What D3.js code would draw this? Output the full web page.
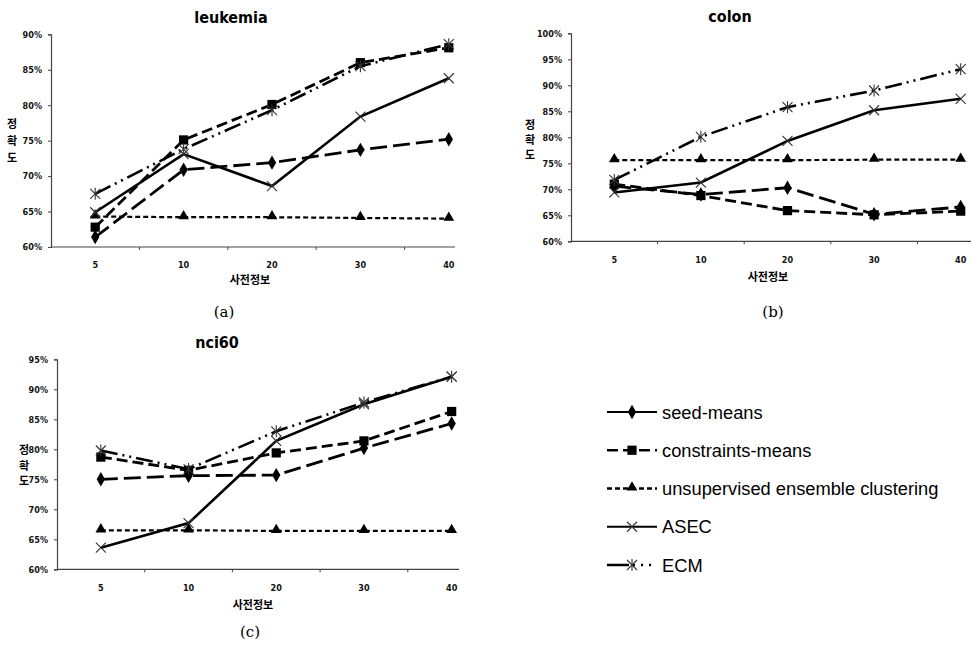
<!DOCTYPE html>
<html>
<head>
<meta charset="utf-8">
<script src="https://cdn.jsdelivr.net/npm/d3@7"></script>
<style>
  body { margin: 0; background: #fff; }
  .tick text { font-family: "DejaVu Sans Condensed", "DejaVu Sans", sans-serif; font-weight: bold; font-size: 9px; fill: #111; }
</style>
</head>
<body>
<script>
/**
 * Data
 */

var categories = ['5', '10', '20', '30', '40'];

var seriesNames = ['seed-means', 'constraints-means', 'unsupervised ensemble clustering', 'ASEC', 'ECM'];

// leukemia (%)
var seedLeuk  = [61.4, 70.9, 71.9, 73.7, 75.2];
var consLeuk  = [62.8, 75.1, 80.1, 86.0, 88.1];
var unsupLeuk = [64.3, 64.2, 64.2, 64.1, 64.0];
var asecLeuk  = [64.9, 73.1, 68.6, 78.4, 83.8];
var ecmLeuk   = [67.5, 73.8, 79.3, 85.5, 88.6];

// colon (%)
var seedColon  = [70.6, 69.0, 70.3, 65.2, 66.6];
var consColon  = [71.0, 68.8, 65.9, 65.1, 65.8];
var unsupColon = [75.6, 75.6, 75.6, 75.7, 75.7];
var asecColon  = [69.4, 71.3, 79.3, 85.2, 87.4];
var ecmColon   = [71.8, 80.1, 85.8, 89.0, 93.1];

// nci60 (%)
var seedNci  = [75.0, 75.6, 75.7, 80.2, 84.3];
var consNci  = [78.7, 76.5, 79.4, 81.4, 86.3];
var unsupNci = [66.5, 66.5, 66.4, 66.4, 66.4];
var asecNci  = [63.6, 67.7, 81.4, 87.5, 92.1];
var ecmNci   = [79.8, 76.7, 83.0, 87.8, 92.1];

var yTicksLeuk  = [60, 65, 70, 75, 80, 85, 90];
var yTicksColon = [60, 65, 70, 75, 80, 85, 90, 95, 100];
var yTicksNci   = [60, 65, 70, 75, 80, 85, 90, 95];

/**
 * Line and marker styles, one per series
 */
var styles = [
  { dash: '17,6', width: 2.8, marker: 'diamond' },
  { dash: '11,5', width: 2.8, marker: 'square' },
  { dash: '5,3', width: 2.2, marker: 'triangle' },
  { dash: null, width: 2.6, marker: 'x' },
  { dash: '17,5,2,5,2,5', width: 2.6, marker: 'star' }
];

/**
 * Panels layout
 */
var panels = [
  { title: 'leukemia', caption: '(a)', series: [seedLeuk, consLeuk, unsupLeuk, asecLeuk, ecmLeuk],
    yTicks: yTicksLeuk, x0: 51, band: 88.4, axisEnd: 455, top: 34.3, bottom: 247,
    titleX: 231, titleY: 23, xTitleX: 250, xTitleY: 284, yLabelX: 12, yLabelY: 123, yLabelStep: 17,
    capX: 224, capY: 317 },
  { title: 'colon', caption: '(b)', series: [seedColon, consColon, unsupColon, asecColon, ecmColon],
    yTicks: yTicksColon, x0: 571, band: 86.6, axisEnd: 971, top: 33.3, bottom: 241.3,
    titleX: 730, titleY: 22, xTitleX: 768, xTitleY: 281, yLabelX: 530, yLabelY: 124, yLabelStep: 15,
    capX: 773, capY: 317 },
  { title: 'nci60', caption: '(c)', series: [seedNci, consNci, unsupNci, asecNci, ecmNci],
    yTicks: yTicksNci, x0: 57, band: 87.7, axisEnd: 459, top: 359.3, bottom: 569.3,
    titleX: 217, titleY: 348, xTitleX: 253, xTitleY: 609, yLabelX: 24, yLabelY: 449, yLabelStep: 15.5,
    capX: 250, capY: 637 }
];

var svg = d3.select('body')
  .append('svg')
  .attr('width', 972)
  .attr('height', 652);

/**
 * Markers
 */
function drawMarker(g, type, cx, cy) {
  var m;
  if (type === 'diamond') {
    g.append('path').attr('d', d3.symbol(d3.symbolDiamond, 60)())
      .attr('transform', 'translate(' + cx + ',' + cy + ')').attr('fill', '#000');
  } else if (type === 'square') {
    g.append('path').attr('d', d3.symbol(d3.symbolSquare, 85)())
      .attr('transform', 'translate(' + cx + ',' + cy + ')').attr('fill', '#000');
  } else if (type === 'triangle') {
    g.append('path').attr('d', d3.symbol(d3.symbolTriangle, 50)())
      .attr('transform', 'translate(' + cx + ',' + (cy - 1) + ')').attr('fill', '#000');
  } else {
    m = g.append('g').attr('transform', 'translate(' + cx + ',' + cy + ')')
      .attr('stroke', '#333').attr('stroke-width', 1.1).attr('fill', 'none');
    m.append('path').attr('d', 'M-5,-5L5,5M-5,5L5,-5');
    if (type === 'star') {
      m.append('path').attr('d', 'M0,-6L0,6');
    }
  }
}

/**
 * Draw one panel
 */
function drawPanel(p) {
  var g = svg.append('g');
  var x = d3.scaleBand().domain(categories).range([p.x0, p.x0 + p.band * categories.length]);
  var y = d3.scaleLinear().domain([60, d3.max(p.yTicks)]).range([p.bottom, p.top]);
  var cx = function(i) { return x(categories[i]) + x.bandwidth() / 2; };

  // y axis
  var yAxis = g.append('g')
    .attr('transform', 'translate(' + p.x0 + ',0)')
    .call(d3.axisLeft(y).tickValues(p.yTicks).tickFormat(function(d) { return d + '%'; })
      .tickSize(3).tickPadding(6));
  yAxis.select('.domain').attr('stroke', '#444').attr('stroke-width', 1.2);
  yAxis.selectAll('.tick line').attr('stroke', '#444');

  // x axis (labels centered in bands, tick marks on band edges)
  var xAxis = g.append('g')
    .attr('transform', 'translate(0,' + p.bottom + ')')
    .call(d3.axisBottom(x).tickSize(0).tickPadding(15));
  xAxis.select('.domain').remove();
  g.append('line')
    .attr('x1', p.x0).attr('x2', p.axisEnd)
    .attr('y1', p.bottom).attr('y2', p.bottom)
    .attr('stroke', '#444').attr('stroke-width', 1.2);
  g.selectAll('.xedge')
    .data(categories.slice(1))
    .enter()
    .append('line')
    .attr('x1', function(d) { return x(d); })
    .attr('x2', function(d) { return x(d); })
    .attr('y1', p.bottom).attr('y2', p.bottom + 3)
    .attr('stroke', '#444');

  // titles
  g.append('text').attr('x', p.titleX).attr('y', p.titleY).attr('text-anchor', 'middle')
    .style('font-family', '"DejaVu Sans Condensed", "DejaVu Sans", sans-serif')
    .style('font-weight', 'bold').style('font-size', '16px')
    .text(p.title);
  g.append('text').attr('x', p.xTitleX).attr('y', p.xTitleY).attr('text-anchor', 'middle')
    .style('font-family', '"Noto Sans CJK KR", sans-serif')
    .style('font-weight', 'bold').style('font-size', '11px')
    .text('사전정보');
  g.selectAll('.ylab')
    .data(['정', '확', '도'])
    .enter()
    .append('text')
    .attr('x', p.yLabelX)
    .attr('y', function(d, i) { return p.yLabelY + i * p.yLabelStep; })
    .attr('text-anchor', 'middle').attr('dominant-baseline', 'central')
    .style('font-family', '"Noto Sans CJK KR", sans-serif')
    .style('font-weight', 'bold').style('font-size', '11px')
    .text(function(d) { return d; });
  g.append('text').attr('x', p.capX).attr('y', p.capY).attr('text-anchor', 'middle')
    .style('font-family', '"DejaVu Serif", serif').style('font-size', '15px')
    .text(p.caption);

  // series lines then markers
  var line = d3.line()
    .x(function(d, i) { return cx(i); })
    .y(function(d) { return y(d); });

  p.series.forEach(function(values, s) {
    g.append('path')
      .datum(values)
      .attr('d', line)
      .attr('fill', 'none')
      .attr('stroke', '#000')
      .attr('stroke-width', styles[s].width)
      .attr('stroke-dasharray', styles[s].dash);
  });
  p.series.forEach(function(values, s) {
    values.forEach(function(v, i) {
      drawMarker(g, styles[s].marker, cx(i), y(v));
    });
  });
}

panels.forEach(drawPanel);

/**
 * Legend
 */
var legendY = d3.scalePoint().domain(seriesNames).range([412, 565]);
var legend = svg.append('g');

seriesNames.forEach(function(name, s) {
  var ly = legendY(name);
  legend.append('line')
    .attr('x1', 607).attr('x2', 657)
    .attr('y1', ly).attr('y2', ly)
    .attr('stroke', '#000')
    .attr('stroke-width', s === 3 || s === 0 ? 2 : 2.4)
    .attr('stroke-dasharray', s === 0 ? null : (s === 4 ? '22,4,2,6,2,6,2' : styles[s].dash));
  drawMarker(legend, styles[s].marker, 632, ly);
  legend.append('text')
    .attr('x', 662).attr('y', ly)
    .attr('dominant-baseline', 'central')
    .style('font-family', '"Liberation Sans", Arial, sans-serif')
    .style('font-size', '18.3px')
    .text(name);
});
</script>
</body>
</html>
